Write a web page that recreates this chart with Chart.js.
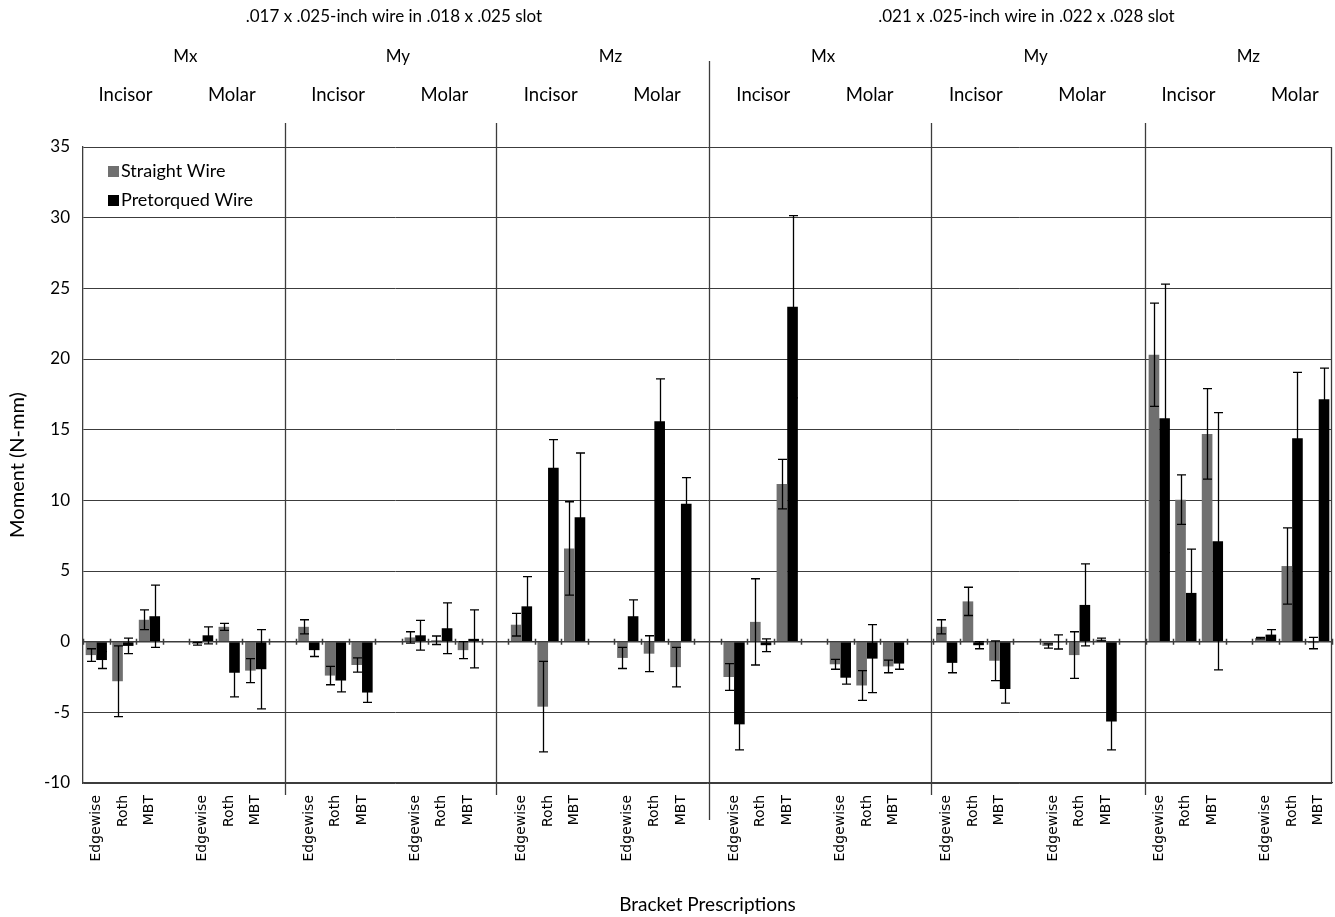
<!DOCTYPE html>
<html>
<head>
<meta charset="utf-8">
<script src="https://cdn.jsdelivr.net/npm/chart.js@4"></script>
<style>
  html, body { margin: 0; padding: 0; background: #fff; }
  canvas { display: block; }
</style>
</head>
<body>
<canvas id="momentChart" width="1335" height="917"></canvas>
<script>
// categories
var slots = ['.017 x .025-inch wire in .018 x .025 slot', '.021 x .025-inch wire in .022 x .028 slot'];
var moments = ['Mx', 'My', 'Mz'];
var teeth = ['Incisor', 'Molar'];
var brackets = ['Edgewise', 'Roth', 'MBT'];

// series values, order: slot > moment > tooth > bracket
var straight = [
  -0.95, -2.8, 1.55,   -0.15, 1.05, -2.05,
  1.05, -2.4, -1.65,   0.3, 0.1, -0.6,
  1.2, -4.6, 6.6,      -1.15, -0.85, -1.8,
  -2.5, 1.4, 11.15,    -1.6, -3.1, -1.75,
  1.05, 2.85, -1.35,   -0.3, -0.95, 0.15,
  20.3, 10.05, 14.7,   0.25, 5.35, -0.1
];
var straightSd = [
  0.45, 2.5, 0.7,      0.1, 0.25, 0.85,
  0.5, 0.65, 0.5,      0.4, 0.3, 0.6,
  0.8, 3.2, 3.3,       0.75, 1.27, 1.4,
  0.95, 3.05, 1.75,    0.35, 1.05, 0.45,
  0.5, 1.0, 1.4,       0.15, 1.65, 0.1,
  3.65, 1.75, 3.2,     0.05, 2.7, 0.4
];
var pretorqued = [
  -1.3, -0.3, 1.8,     0.45, -2.2, -1.95,
  -0.6, -2.75, -3.6,   0.45, 0.95, 0.2,
  2.5, 12.3, 8.8,      1.8, 15.6, 9.75,
  -5.85, -0.25, 23.7,  -2.55, -1.2, -1.55,
  -1.5, -0.25, -3.35,  -0.02, 2.6, -5.65,
  15.8, 3.45, 7.1,     0.5, 14.4, 17.15
];
var pretorquedSd = [
  0.6, 0.55, 2.2,      0.6, 1.7, 2.8,
  0.45, 0.8, 0.7,      1.05, 1.8, 2.05,
  2.1, 2.0, 4.55,      1.15, 3.0, 1.85,
  1.8, 0.45, 6.45,     0.45, 2.4, 0.4,
  0.7, 0.25, 1.0,      0.5, 2.9, 2.0,
  9.5, 3.1, 9.1,       0.35, 4.65, 2.2
];

// y tick labels
var yTicks = [-10, -5, 0, 5, 10, 15, 20, 25, 30, 35];

// put one empty category between each group of three brackets
function withGaps(arr, blank) {
  var out = [];
  for (var g = 0; g < arr.length / 3; g++) {
    if (g > 0) out.push(blank);
    out.push(arr[g * 3], arr[g * 3 + 1], arr[g * 3 + 2]);
  }
  return out;
}
var groupCount = slots.length * moments.length * teeth.length;
var labels = [];
for (var g = 0; g < groupCount; g++) {
  if (g > 0) labels.push('');
  labels = labels.concat(brackets);
}

var GRAY = '#707070';
var LINE = '#3c3c3c';
var FONT = 'Lato, "Open Sans", sans-serif';

var overlay = {
  id: 'overlay',
  afterDatasetsDraw: function(chart) {
    var ctx = chart.ctx;
    var xs = chart.scales.x, ys = chart.scales.y;
    var area = chart.chartArea;
    var sds = [withGaps(straightSd, null), withGaps(pretorquedSd, null)];
    ctx.save();
    // zero axis with small ticks at category boundaries
    var y0 = ys.getPixelForValue(0);
    ctx.strokeStyle = LINE;
    ctx.lineWidth = 1.5;
    ctx.beginPath();
    ctx.moveTo(area.left, y0); ctx.lineTo(area.right, y0);
    for (var k = 0; k <= labels.length; k++) {
      var tx = Math.round(xs.getPixelForValue(k - 0.5)) + 0.5;
      ctx.moveTo(tx, y0 - 3); ctx.lineTo(tx, y0 + 3);
    }
    ctx.stroke();
    // error bars
    ctx.strokeStyle = '#000';
    ctx.lineWidth = 1.3;
    chart.data.datasets.forEach(function(ds, i) {
      var meta = chart.getDatasetMeta(i);
      meta.data.forEach(function(el, j) {
        var v = ds.data[j], sd = sds[i][j];
        if (v === null || sd === null) return;
        var x = Math.round(el.x) + 0.5;
        var yt = ys.getPixelForValue(v + sd), yb = ys.getPixelForValue(v - sd);
        ctx.beginPath();
        ctx.moveTo(x, yt); ctx.lineTo(x, yb);
        ctx.moveTo(x - 4.5, yt); ctx.lineTo(x + 4.5, yt);
        ctx.moveTo(x - 4.5, yb); ctx.lineTo(x + 4.5, yb);
        ctx.stroke();
      });
    });
    ctx.restore();
  },
  afterDraw: function(chart) {
    var ctx = chart.ctx;
    var xs = chart.scales.x;
    var area = chart.chartArea;
    ctx.save();
    // right frame
    ctx.strokeStyle = LINE;
    ctx.lineWidth = 1.3;
    ctx.beginPath();
    ctx.moveTo(area.right - 0.5, area.top); ctx.lineTo(area.right - 0.5, area.bottom);
    ctx.stroke();

    // section separators (moment) and the slot separator
    var seps = [7.1, 15.05, 31.4, 39.45];
    ctx.beginPath();
    seps.forEach(function(s) {
      var sx = Math.round(xs.getPixelForValue(s)) + 0.5;
      ctx.moveTo(sx, 123); ctx.lineTo(sx, 795);
    });
    var mid = Math.round(xs.getPixelForValue(23.05)) + 0.5;
    ctx.moveTo(mid, 61); ctx.lineTo(mid, 820);
    ctx.stroke();

    // header rows
    ctx.fillStyle = '#000';
    ctx.textAlign = 'center';
    ctx.textBaseline = 'middle';
    ctx.font = '17px ' + FONT;
    slots.forEach(function(s, i) {
      ctx.fillText(s, xs.getPixelForValue(i === 0 ? 11.2 : 35), 17);
    });
    for (var si = 0; si < slots.length; si++) {
      moments.forEach(function(m, mi) {
        var base = si * 24 + mi * 8;
        ctx.font = '17px ' + FONT;
        ctx.fillText(m, xs.getPixelForValue(base + 3.35), 57);
        ctx.font = '18.5px ' + FONT;
        teeth.forEach(function(t, ti) {
          ctx.fillText(t, xs.getPixelForValue(base + ti * 4 + 1.1), 95);
        });
      });
    }

    // legend inside the plot
    var items = [['Straight Wire', GRAY], ['Pretorqued Wire', '#000']];
    ctx.textAlign = 'left';
    ctx.font = '18px ' + FONT;
    items.forEach(function(it, i) {
      var ly = 171 + i * 29;
      ctx.fillStyle = it[1];
      ctx.fillRect(108, ly - 5, 11, 11);
      ctx.fillStyle = '#000';
      ctx.fillText(it[0], 121, ly);
    });
    ctx.restore();
  }
};

new Chart(document.getElementById('momentChart'), {
  type: 'bar',
  data: {
    labels: labels,
    datasets: [
      { label: 'Straight Wire', data: withGaps(straight, null), backgroundColor: GRAY, barPercentage: 1.0, categoryPercentage: 0.8 },
      { label: 'Pretorqued Wire', data: withGaps(pretorqued, null), backgroundColor: '#000', barPercentage: 1.0, categoryPercentage: 0.8 }
    ]
  },
  options: {
    responsive: false,
    devicePixelRatio: 1,
    animation: false,
    layout: { padding: { top: 147, right: 3, left: 0, bottom: 0 } },
    plugins: { legend: { display: false }, tooltip: { enabled: false } },
    scales: {
      x: {
        afterFit: function(scale) { scale.height = 134; scale.paddingLeft = 0; scale.paddingRight = 0; },
        grid: { display: false, drawTicks: false },
        border: { display: true, color: LINE, width: 1.3 },
        ticks: { autoSkip: false, maxRotation: 90, minRotation: 90, padding: 12, color: '#000', font: { family: '"DejaVu Sans", sans-serif', size: 14 } },
        title: { display: true, text: 'Bracket Prescriptions', color: '#000', font: { family: FONT, size: 19 }, padding: { top: 4, bottom: 1 } }
      },
      y: {
        min: yTicks[0],
        max: yTicks[yTicks.length - 1],
        afterFit: function(scale) { scale.width = 83; },
        afterBuildTicks: function(scale) { scale.ticks = yTicks.map(function(v) { return { value: v }; }); },
        grid: { color: LINE, lineWidth: 1, drawTicks: false },
        border: { display: true, color: LINE, width: 1.3 },
        ticks: { padding: 13, color: '#000', font: { family: FONT, size: 17 } },
        title: { display: true, text: 'Moment (N-mm)', color: '#000', font: { family: FONT, size: 20 }, padding: { top: 6, bottom: 4 } }
      }
    }
  },
  plugins: [overlay]
});
</script>
</body>
</html>
